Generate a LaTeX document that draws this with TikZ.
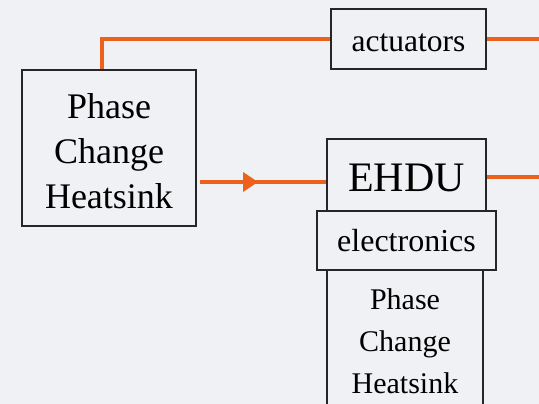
\documentclass[tikz,border=0pt]{standalone}
\usepackage{fontspec}
\setmainfont{Liberation Serif}
\usetikzlibrary{arrows.meta,decorations.markings}
\definecolor{bg}{RGB}{239,241,244}
\definecolor{wire}{RGB}{236,98,28}
\tikzset{
  blk/.style={draw=black!85, line width=1.5pt, rectangle, inner sep=0pt, align=center, fill=bg},
  txt/.style={inner sep=0pt, align=center},
  wireline/.style={draw=wire, line width=3.5pt},
  midarrow/.style={postaction={decorate}, decoration={markings, mark=at position #1 with {\arrow{Triangle[length=15pt,width=19pt]}}}}
}
\begin{document}
\begin{tikzpicture}[x=1pt,y=1pt]
\fill[bg] (0,0) rectangle (539,404);
\useasboundingbox (0,0) rectangle (539,404);
\begin{scope}
\clip (0,0) rectangle (539,404);
\node[blk, minimum width=174pt, minimum height=156pt, label={[txt, yshift=-3pt, font=\fontsize{36}{45}\selectfont]center:Phase\\Change\\Heatsink}] (L) at (109,256) {};
\node[blk, minimum width=155pt, minimum height=60pt, label={[txt, yshift=-4pt, font=\fontsize{31.5}{36}\selectfont]center:actuators}] (A) at (408.5,365) {};
\node[blk, minimum width=159pt, minimum height=72pt, label={[txt, yshift=-3pt, font=\fontsize{42}{48}\selectfont]center:EHDU}] (E) at (406.5,229) {};
\node[blk, minimum width=156pt, minimum height=142pt, font=\fontsize{30}{42}\selectfont] (H) at (405,63) {Phase\\Change\\Heatsink};
\node[blk, minimum width=179pt, minimum height=59pt, font=\fontsize{32}{36}\selectfont] (El) at (406.5,163.5) {electronics};
\coordinate (a1) at (200,222);
\coordinate (r1) at (539,365);
\coordinate (r2) at (539,227);
\draw[wireline] (L.north -| 102,0) |- (A.west);
\draw[wireline] (A.east) -- (r1);
\draw[wireline, midarrow=0.46] (a1) -- (a1 -| E.west);
\draw[wireline] (E.east |- r2) -- (r2);
\end{scope}
\end{tikzpicture}
\end{document}
